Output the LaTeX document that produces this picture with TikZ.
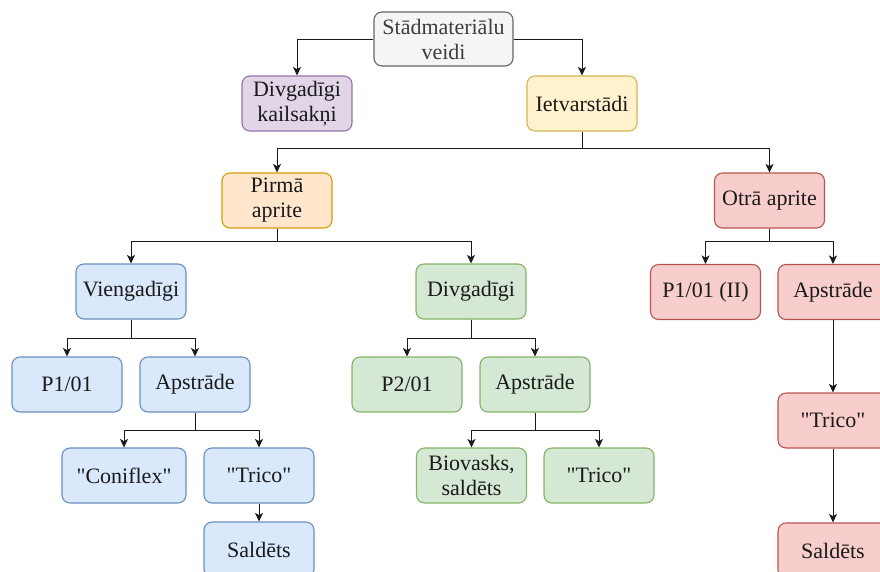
\documentclass[tikz,border=0pt]{standalone}
\usepackage{fontspec}
\setmainfont{Liberation Serif}[Ligatures=TeXOff]
\usetikzlibrary{arrows.meta}
\definecolor{grayF}{HTML}{F5F5F5}\definecolor{grayS}{HTML}{666666}
\definecolor{purF}{HTML}{E1D5E7}\definecolor{purS}{HTML}{9673A6}
\definecolor{yelF}{HTML}{FFF2CC}\definecolor{yelS}{HTML}{D6B656}
\definecolor{oraF}{HTML}{FFE6CC}\definecolor{oraS}{HTML}{D79B00}
\definecolor{redF}{HTML}{F8CECC}\definecolor{redS}{HTML}{B85450}
\definecolor{bluF}{HTML}{DAE8FC}\definecolor{bluS}{HTML}{6C8EBF}
\definecolor{grnF}{HTML}{D5E8D4}\definecolor{grnS}{HTML}{82B366}
\definecolor{txt}{HTML}{1A1A1A}
\tikzset{
  box/.style={rounded corners=8pt, minimum width=110pt, minimum height=55pt,
    align=center, inner sep=0pt, line width=1.1pt, text=txt,
    font=\fontsize{22}{25}\selectfont},
  graybox/.style={box, fill=grayF, draw=grayS, text=grayS!60!black},
  purbox/.style={box, fill=purF, draw=purS},
  yelbox/.style={box, fill=yelF, draw=yelS},
  orabox/.style={box, fill=oraF, draw=oraS},
  redbox/.style={box, fill=redF, draw=redS},
  blubox/.style={box, fill=bluF, draw=bluS},
  grnbox/.style={box, fill=grnF, draw=grnS},
  arr/.style={draw=txt, line width=1pt, -{Stealth[length=8.5pt,width=8pt,inset=2.2pt]}}
}
\begin{document}
\begin{tikzpicture}[x=1pt,y=-1pt]
\useasboundingbox (0,0) rectangle (880,571);
\clip (0,0) rectangle (880,571);
% nodes
\node[graybox, minimum width=139pt, minimum height=54pt] (top) at (443.5,39) {Stādmateriālu\\veidi};
\node[purbox] (dk) at (297,103.5) {Divgadīgi\\kailsakņi};
\node[yelbox] (iet) at (582,103.5) {Ietvarstādi};
\node[orabox] (pa) at (277,200.5) {Pirmā\\aprite};
\node[redbox] (oa) at (769.5,200.5) {Otrā aprite};
\node[blubox] (vg) at (131,291.5) {Viengadīgi};
\node[grnbox] (dg) at (471,291.5) {Divgadīgi};
\node[blubox] (p101) at (67,384.5) {P1/01};
\node[blubox] (bap) at (195,384.5) {Apstrāde};
\node[grnbox] (p201) at (407,384.5) {P2/01};
\node[grnbox] (gap) at (535,384.5) {Apstrāde};
\node[redbox] (p101ii) at (705.5,292) {P1/01 (II)};
\node[redbox] (rap) at (833,292) {Apstrāde};
\node[blubox, minimum width=124pt] (con) at (124,475.5) {"Coniflex"};
\node[blubox] (btr) at (259,475.5) {"Trico"};
\node[grnbox] (bio) at (471.5,475.5) {Biovasks,\\saldēts};
\node[grnbox] (gtr) at (599,475.5) {"Trico"};
\node[redbox] (rtr) at (833,420.5) {"Trico"};
\node[blubox] (bsal) at (259,549.5) {Saldēts};
\node[redbox] (rsal) at (833,550.5) {Saldēts};
% connectors
\draw[arr] (top.west) -| (dk.north);
\draw[arr] (top.east) -| (iet.north);
\draw[arr] (iet.south) -- ++(0,17) -| (pa.north);
\draw[arr] (iet.south) -- ++(0,17) -| (oa.north);
\draw[arr] (pa.south) -- ++(0,13) -| (vg.north);
\draw[arr] (pa.south) -- ++(0,13) -| (dg.north);
\draw[arr] (vg.south) -- ++(0,19) -| (p101.north);
\draw[arr] (vg.south) -- ++(0,19) -| (bap.north);
\draw[arr] (dg.south) -- ++(0,19) -| (p201.north);
\draw[arr] (dg.south) -- ++(0,19) -| (gap.north);
\draw[arr] (oa.south) -- ++(0,13) -| (p101ii.north);
\draw[arr] (oa.south) -- ++(0,13) -| (rap.north);
\draw[arr] (bap.south) -- ++(0,18) -| (con.north);
\draw[arr] (bap.south) -- ++(0,18) -| (btr.north);
\draw[arr] (gap.south) -- ++(0,18) -| (bio.north);
\draw[arr] (gap.south) -- ++(0,18) -| (gtr.north);
\draw[arr] (btr) -- (bsal);
\draw[arr] (rap) -- (rtr);
\draw[arr] (rtr) -- (rsal);
\end{tikzpicture}
\end{document}
